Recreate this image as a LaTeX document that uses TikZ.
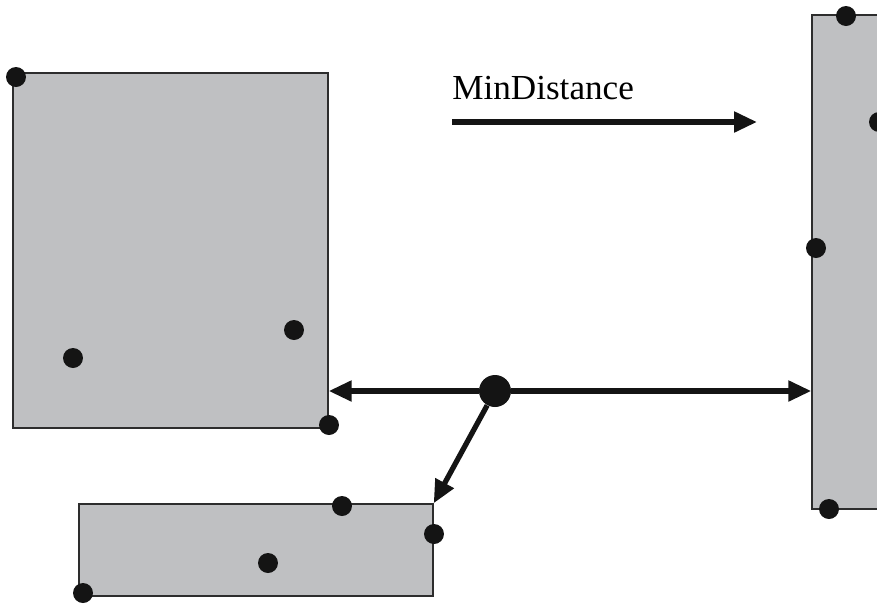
\documentclass[tikz,border=0pt]{standalone}
\usepackage{fontspec}
\setmainfont{Liberation Serif}
\usepackage{tikz}
\usetikzlibrary{arrows.meta,calc}
\definecolor{BoxFill}{RGB}{191,192,194}
\definecolor{BoxLine}{RGB}{45,45,45}
\definecolor{DotInk}{RGB}{20,20,20}

\begin{document}
\begin{tikzpicture}[
  x=0.02cm, y=-0.02cm,
  region/.style={draw=BoxLine, fill=BoxFill, line width=0.85pt, inner sep=0pt},
  pt/.style={circle, fill=DotInk, inner sep=0pt, minimum size=0.4cm},
  query/.style={circle, fill=DotInk, inner sep=0pt, minimum size=0.64cm},
  arr/.style={-{Triangle[length=0.46cm,width=0.4cm]}, line width=3pt, DotInk},
]
  \clip (0,0) rectangle (877,603);

  % regions
  \node[region, minimum width=6.3cm, minimum height=7.1cm] (boxA) at (170.5,250.5) {};
  \node[region, minimum width=7.08cm, minimum height=1.84cm] (boxB) at (256,550) {};
  \node[region, minimum width=2.56cm, minimum height=9.88cm] (boxC) at (876,262) {};

  % points
  \node[pt] (a1) at (16,77) {};
  \node[pt] (a2) at (73,358) {};
  \node[pt] (a3) at (294,330) {};
  \node[pt] (a4) at (329,425) {};
  \node[pt] (b1) at (342,506) {};
  \node[pt] (b2) at (434,534) {};
  \node[pt] (b3) at (268,563) {};
  \node[pt] (b4) at (83,593) {};
  \node[pt] (c1) at (846,16) {};
  \node[pt] (c2) at (879,122) {};
  \node[pt] (c3) at (816,248) {};
  \node[pt] (c4) at (829,509) {};
  \node[query] (q) at (495,391) {};

  % distances
  \draw[arr] (q) -- (q -| boxA.east);
  \draw[arr] (q) -- (q -| boxC.west);
  \draw[arr] (q) -- (boxB.north east);

  % label
  \node[anchor=base west, inner sep=0pt, font=\fontsize{20}{24}\selectfont] (mdlab) at (452,99) {MinDistance};
  \coordinate (md0) at (452,122);
  \coordinate (md1) at (757,122);
  \draw[arr] (md0) -- (md1);
\end{tikzpicture}
\end{document}
